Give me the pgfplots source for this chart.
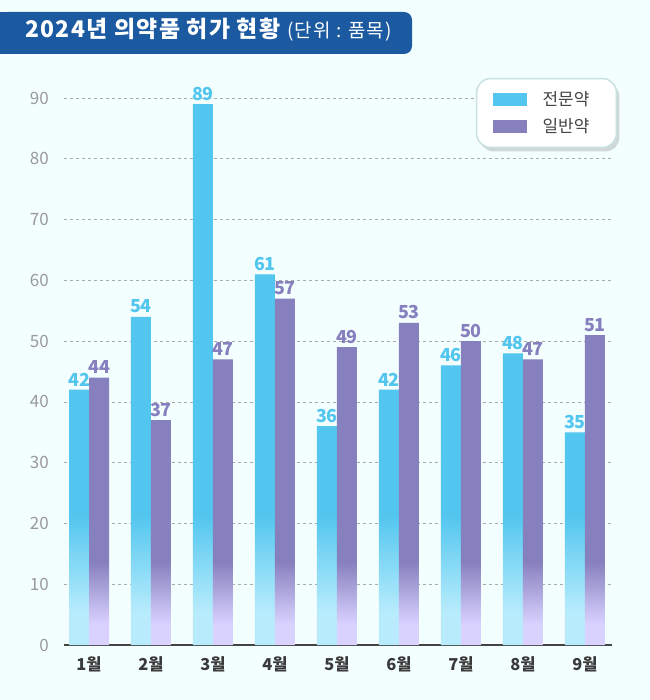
\documentclass[border=0pt]{standalone}
\usepackage{pgfplots}
\pgfplotsset{compat=1.18}
\usepackage{fontspec}
\setmainfont{Noto Sans CJK KR}
\newfontfamily\titlefont{Noto Sans CJK KR}[LetterSpace=6]
\usetikzlibrary{shadows}
\definecolor{bg}{HTML}{F3FEFE}
\definecolor{cyanmain}{HTML}{52C6EF}
\definecolor{cyanlight}{HTML}{B8ECFC}
\definecolor{purmain}{HTML}{8780BE}
\definecolor{purlight}{HTML}{D9D2FF}
\definecolor{titleblue}{HTML}{1B5AA0}
\definecolor{ticgray}{HTML}{9A9A9A}
\definecolor{xgray}{HTML}{3A3A3A}
\definecolor{axisgray}{HTML}{444444}
\definecolor{gridgray}{HTML}{AAAAAA}
\definecolor{legborder}{HTML}{C8E2E2}
\definecolor{legtext}{HTML}{444444}
\pgfdeclareverticalshading{cyanshade}{100bp}{color(0bp)=(cyanlight); color(28bp)=(cyanlight); color(37bp)=(cyanmain); color(100bp)=(cyanmain)}
\pgfdeclareverticalshading{purshade}{100bp}{color(0bp)=(purlight); color(28bp)=(purlight); color(37bp)=(purmain); color(100bp)=(purmain)}
\begin{document}
\begin{tikzpicture}
\fill[bg] (0bp,0bp) rectangle (650bp,700bp);
\path[use as bounding box] (0bp,0bp) rectangle (650bp,700bp);
\fill[titleblue, rounded corners=8bp] (0bp,646bp) rectangle (412bp,688bp);
\fill[titleblue] (0bp,646bp) rectangle (30bp,688bp);
\node[anchor=base west, text=white, inner sep=0pt] at (25bp,662bp) {\titlefont\fontsize{23}{27}\selectfont\bfseries 2024년 의약품 허가 현황 {\mdseries\fontsize{19}{23}\selectfont (단위 : 품목)}};
\begin{axis}[
  at={(89bp,55bp)}, anchor=origin,
  scale only axis, width=548bp, height=547bp,
  xmin=-0.4, xmax=8.44, ymin=0, ymax=90,
  ybar=0pt, bar width=20bp,
  axis lines*=left,
  y axis line style={draw=none},
  x axis line style={draw=axisgray, line width=1.5bp},
  major tick length=0pt,
  xtick={0,...,8},
  xticklabels={1월,2월,3월,4월,5월,6월,7월,8월,9월},
  ytick={0,10,...,90},
  ymajorgrids,
  grid style={draw=gridgray, dashed, line width=0.6bp},
  /pgf/number format/assume math mode=true,
  yticklabel style={font=\fontsize{17}{20}\selectfont, text=ticgray, xshift=-12bp},
  xticklabel style={font=\fontsize{16.5}{19}\selectfont\bfseries, text=xgray, yshift=-8bp},
  clip=false,
  nodes near coords,
  every node near coord/.append style={font=\fontsize{18}{20}\selectfont\bfseries, inner sep=1bp, yshift=2.5bp},
  legend style={at={(1.009,1.037)}, anchor=north east, draw=legborder, line width=1.5bp, fill=white,
    rounded corners=14bp, drop shadow={shadow xshift=3bp, shadow yshift=-4bp, opacity=0.3},
    font=\fontsize{17}{20}\selectfont, text=legtext, inner xsep=16bp, inner ysep=11bp, row sep=8bp,
    /tikz/every odd column/.append style={column sep=14bp}},
  legend cell align=left,
]
\addplot[draw=none, shade, shading=cyanshade,
  every node near coord/.append style={text=cyanmain},
  legend image code/.code={\pgfsetcornersarced{\pgfpointorigin}\pgfsetfillcolor{cyanmain}\pgfpathrectangle{\pgfpoint{0bp}{-6.5bp}}{\pgfpoint{34bp}{13bp}}\pgfusepath{fill}}]
  coordinates {(0,42) (1,54) (2,89) (3,61) (4,36) (5,42) (6,46) (7,48) (8,35)};
\addlegendentry{전문약\hspace*{9bp}}
\addplot[draw=none, shade, shading=purshade,
  every node near coord/.append style={text=purmain},
  legend image code/.code={\pgfsetcornersarced{\pgfpointorigin}\pgfsetfillcolor{purmain}\pgfpathrectangle{\pgfpoint{0bp}{-6.5bp}}{\pgfpoint{34bp}{13bp}}\pgfusepath{fill}}]
  coordinates {(0,44) (1,37) (2,47) (3,57) (4,49) (5,53) (6,50) (7,47) (8,51)};
\addlegendentry{일반약\hspace*{9bp}}
\end{axis}
\end{tikzpicture}
\end{document}
